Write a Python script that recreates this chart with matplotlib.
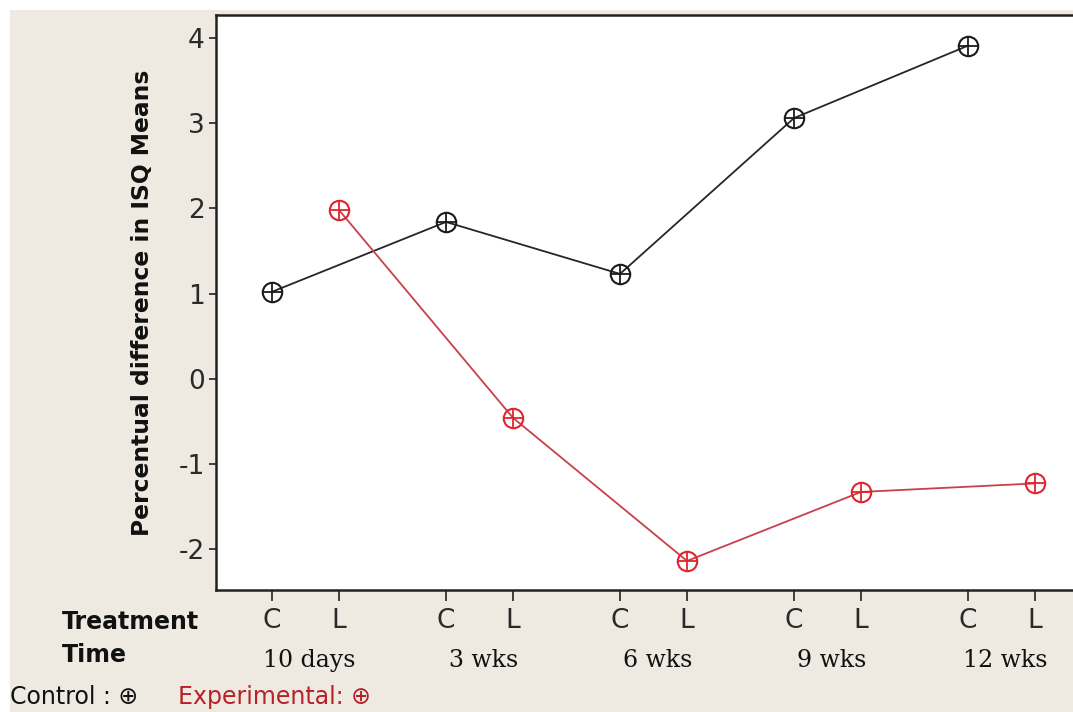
import matplotlib
matplotlib.use("Agg")
import matplotlib.pyplot as plt
from matplotlib.patches import Rectangle

# ---- data ----
time_labels = ["10 days", "3 wks", "6 wks", "9 wks", "12 wks"]
treatment_labels = ["C", "L"]
control_values = [1.02, 1.84, 1.23, 3.06, 3.91]          # plotted at "C"
experimental_values = [1.98, -0.46, -2.14, -1.33, -1.23]  # plotted at "L"
y_ticks = [-2, -1, 0, 1, 2, 3, 4]

# ---- layout ----
W, H = 1073, 712
fig = plt.figure(figsize=(W / 100, H / 100), dpi=100, facecolor="white")
bg = "#EEEAE1"
fig.patches.append(Rectangle((10 / W, 0), 1 - 10 / W, 1 - 10 / H,
                             transform=fig.transFigure, facecolor=bg,
                             edgecolor="none", zorder=-10))

left, top, bottom = 216 / W, 1 - 15 / H, 1 - 590 / H
ax = fig.add_axes([left, bottom, 1 - left, top - bottom])
ax.set_facecolor("white")

offset = 67 / 174
groups = list(range(len(time_labels)))
xc = [g for g in groups]
xl = [g + offset for g in groups]

ax.set_xlim(-56 / 174, (1073 - 272) / 174)
ax.set_ylim(-2 - 41 / 85.2, 4 + 23 / 85.2)

black = "#1a1a1a"
red_line = "#c8404c"
red_mark = "#e0242c"
ms = 14

ax.plot(xc, control_values, color="#262626", lw=1.3, zorder=2)
ax.plot(xc, control_values, ls="none", marker="o", ms=ms, mfc="none",
        mec=black, mew=1.5, zorder=3)
ax.plot(xc, control_values, ls="none", marker="+", ms=ms, mec=black,
        mew=1.3, zorder=3)

ax.plot(xl, experimental_values, color=red_line, lw=1.3, zorder=2)
ax.plot(xl, experimental_values, ls="none", marker="o", ms=ms, mfc="none",
        mec=red_mark, mew=1.5, zorder=3)
ax.plot(xl, experimental_values, ls="none", marker="+", ms=ms, mec=red_mark,
        mew=1.3, zorder=3)

# spines
for s in ["left", "top", "bottom"]:
    ax.spines[s].set_color("#222222")
    ax.spines[s].set_linewidth(1.8)
ax.spines["right"].set_visible(False)

# y ticks
ax.set_yticks(y_ticks)
ax.set_yticklabels([str(v) for v in y_ticks], fontsize=19,
                   family="DejaVu Sans", color="#2a2a2a")
ax.tick_params(axis="y", direction="out", length=5, width=1.2,
               color="#222222", pad=3)

# x ticks
xt = []
xtl = []
for g in groups:
    xt += [xc[g], xl[g]]
    xtl += treatment_labels
ax.set_xticks(xt)
ax.set_xticklabels(xtl, fontsize=19, family="DejaVu Sans", color="#2a2a2a")
ax.tick_params(axis="x", direction="out", length=8, width=1.2,
               color="#222222", pad=5)

ax.set_ylabel("Percentual difference in ISQ Means", fontsize=16.8,
              fontweight="bold", color="#111111", labelpad=18)

# time labels
for g, t in enumerate(time_labels):
    ax.text((xc[g] + xl[g]) / 2 + 4 / 174, -0.122, t,
            transform=ax.get_xaxis_transform(), ha="center", va="center",
            fontsize=17, family="DejaVu Serif", color="#111111")

fig.text(62 / W, 1 - 622 / H, "Treatment", fontsize=17, fontweight="bold",
         ha="left", va="center", color="#111111")
fig.text(62 / W, 1 - 655 / H, "Time", fontsize=17, fontweight="bold",
         ha="left", va="center", color="#111111")

legend_fam = ["Liberation Sans Narrow", "DejaVu Sans"]
fig.text(10 / W, 1 - 697 / H, "Control : \u2295", fontsize=17,
         family=legend_fam, ha="left", va="center", color="#111111")
fig.text(178 / W, 1 - 697 / H, "Experimental: \u2295", fontsize=17,
         family=legend_fam, ha="left", va="center", color="#b82028")

fig.savefig("out.png", dpi=100, facecolor=fig.get_facecolor())
